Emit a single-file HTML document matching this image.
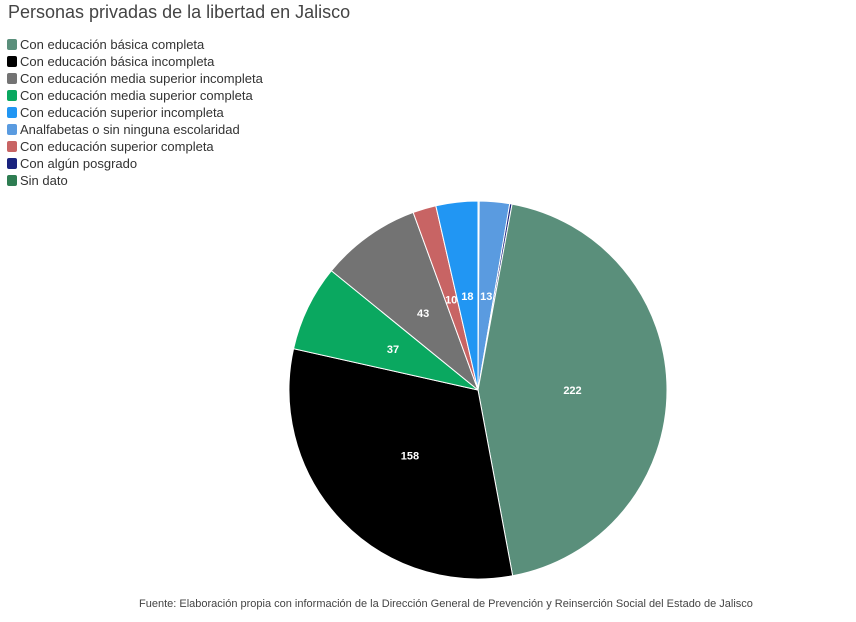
<!DOCTYPE html>
<html><head><meta charset="utf-8"><style>
body{margin:0;background:#fff;font-family:"Liberation Sans",sans-serif;}
#wrap{position:relative;width:856px;height:622px;overflow:hidden;}
.title{position:absolute;left:8px;top:2px;font-size:18px;color:#444;}
.legend{position:absolute;left:7px;top:36px;font-size:13px;color:#333;}
.li{height:17px;line-height:17px;display:flex;align-items:center;}
.sw{width:10px;height:11px;border-radius:2px;margin-right:3px;}
.src{position:absolute;left:139px;top:598px;font-size:11px;color:#444;}
</style></head><body>
<div id="wrap">
<div class="title">Personas privadas de la libertad en Jalisco</div>
<div class="legend" id="legend"></div>
<svg id="pie" width="856" height="622" style="position:absolute;left:0;top:0"></svg>
<div class="src">Fuente: Elaboración propia con información de la Dirección General de Prevención y Reinserción Social del Estado de Jalisco</div>
</div>
<script>
const legendNames=["Con educación básica completa","Con educación básica incompleta","Con educación media superior incompleta","Con educación media superior completa","Con educación superior incompleta","Analfabetas o sin ninguna escolaridad","Con educación superior completa","Con algún posgrado","Sin dato"];
const legendColors=["#5a8f7b","#000000","#737373","#0aa860","#2196f3","#5a9be0","#c86464","#1a237e","#2e7d52"];
// clockwise from 12 o'clock
const sliceNames=["Sin dato","Analfabetas o sin ninguna escolaridad","Con algún posgrado","Con educación básica completa","Con educación básica incompleta","Con educación media superior completa","Con educación media superior incompleta","Con educación superior completa","Con educación superior incompleta"];
const sliceValues=[0.5,13,1,222,158,37,43,10,18];
const NS="http://www.w3.org/2000/svg";
const lg=document.getElementById('legend');
legendNames.forEach((n,i)=>{
  const d=document.createElement('div');d.className='li';
  
  
  d.innerHTML='<span class="sw" style="background:'+legendColors[i]+'"></span>'+n;
  lg.appendChild(d);
});
const svg=document.getElementById('pie');
const cx=478,cy=390,r=189;
const total=sliceValues.reduce((a,b)=>a+b,0);
let acc=0;
function pt(a,rr){return [cx+rr*Math.sin(a),cy-rr*Math.cos(a)];}
sliceValues.forEach((v,i)=>{
  const a0=acc/total*2*Math.PI;acc+=v;const a1=acc/total*2*Math.PI;
  const p0=pt(a0,r),p1=pt(a1,r);
  const path=document.createElementNS(NS,'path');
  path.setAttribute('d',`M${cx},${cy}L${p0[0]},${p0[1]}A${r},${r} 0 ${a1-a0>Math.PI?1:0} 1 ${p1[0]},${p1[1]}Z`);
  path.setAttribute('fill',legendColors[legendNames.indexOf(sliceNames[i])]);
  path.setAttribute('stroke','#fff');path.setAttribute('stroke-width','1');
  
  
  svg.appendChild(path);
  if(v>=5){
    const m=pt((a0+a1)/2,r*0.5);
    const t=document.createElementNS(NS,'text');
    t.setAttribute('x',m[0]);t.setAttribute('y',m[1]+4);
    t.setAttribute('text-anchor','middle');t.setAttribute('fill','#fff');
    t.setAttribute('font-size','11');t.setAttribute('font-weight','bold');
    t.setAttribute('font-family','Liberation Sans, sans-serif');
    t.textContent=v;
    
    
    svg.appendChild(t);
  }
});
</script>
</body></html>
